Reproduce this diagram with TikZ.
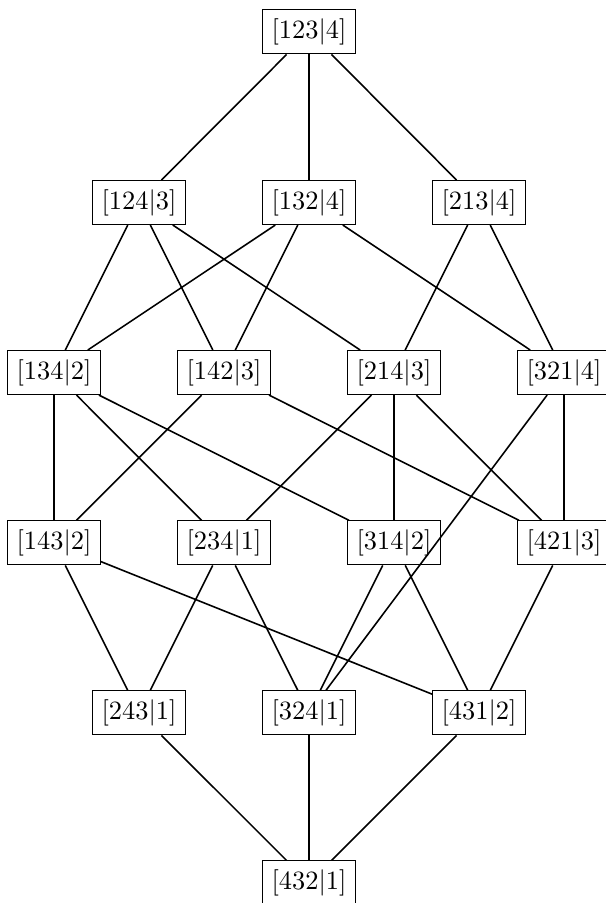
\documentclass[tikz,border=0pt]{standalone}
\begin{document}
\begin{tikzpicture}[x=1pt,y=1pt,
  pnode/.style={draw, line width=0.4pt, fill=white, inner sep=3.333pt},
  edge/.style={line width=0.6pt}]
\useasboundingbox (0,0) rectangle (229.5,-342);
% row 0
\node[pnode] (a) at (117.05,-12.1) {$[123|4]$};
% row 1
\node[pnode] (b1) at (52.65,-76.7) {$[124|3]$};
\node[pnode] (b2) at (117.05,-76.7) {$[132|4]$};
\node[pnode] (b3) at (181.4,-76.7) {$[213|4]$};
% row 2
\node[pnode] (c1) at (20.45,-141.1) {$[134|2]$};
\node[pnode] (c2) at (84.85,-141.1) {$[142|3]$};
\node[pnode] (c3) at (149.2,-141.1) {$[214|3]$};
\node[pnode] (c4) at (213.6,-141.1) {$[321|4]$};
% row 3
\node[pnode] (d1) at (20.45,-205.6) {$[143|2]$};
\node[pnode] (d2) at (84.85,-205.6) {$[234|1]$};
\node[pnode] (d3) at (149.2,-205.6) {$[314|2]$};
\node[pnode] (d4) at (213.6,-205.6) {$[421|3]$};
% row 4
\node[pnode] (e1) at (52.65,-270.0) {$[243|1]$};
\node[pnode] (e2) at (117.05,-270.0) {$[324|1]$};
\node[pnode] (e3) at (181.4,-270.0) {$[431|2]$};
% row 5
\node[pnode] (f) at (117.05,-334.4) {$[432|1]$};
\begin{scope}[on background layer/.try]
\end{scope}
\draw[edge] (a) -- (b1);
\draw[edge] (a) -- (b2);
\draw[edge] (a) -- (b3);
\draw[edge] (b1) -- (c1);
\draw[edge] (b1) -- (c2);
\draw[edge] (b1) -- (c3);
\draw[edge] (b2) -- (c1);
\draw[edge] (b2) -- (c2);
\draw[edge] (b2) -- (c4);
\draw[edge] (b3) -- (c3);
\draw[edge] (b3) -- (c4);
\draw[edge] (c1) -- (d1);
\draw[edge] (c1) -- (d2);
\draw[edge] (c1) -- (d3);
\draw[edge] (c2) -- (d1);
\draw[edge] (c2) -- (d4);
\draw[edge] (c3) -- (d2);
\draw[edge] (c3) -- (d3);
\draw[edge] (c3) -- (d4);
\draw[edge] (c4) -- (d4);
\draw[edge] (c4) -- (e2);
\draw[edge] (d1) -- (e1);
\draw[edge] (d1) -- (e3);
\draw[edge] (d2) -- (e1);
\draw[edge] (d2) -- (e2);
\draw[edge] (d3) -- (e2);
\draw[edge] (d3) -- (e3);
\draw[edge] (d4) -- (e3);
\draw[edge] (e1) -- (f);
\draw[edge] (e2) -- (f);
\draw[edge] (e3) -- (f);
\end{tikzpicture}
\end{document}
